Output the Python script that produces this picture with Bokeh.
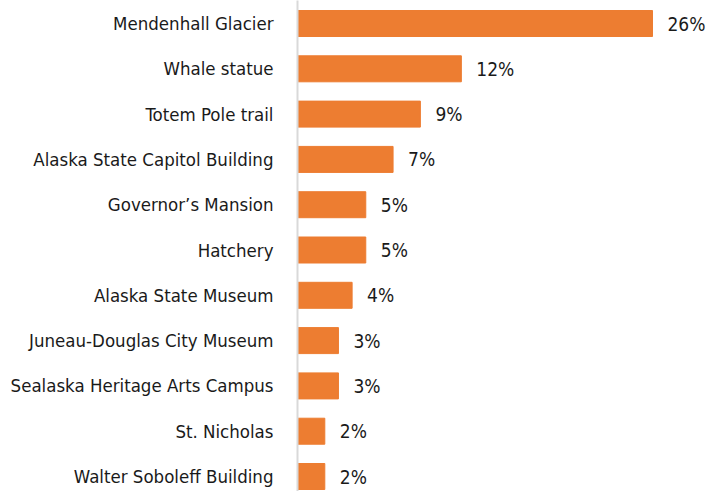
from bokeh.plotting import figure
from bokeh.models import Range1d, FixedTicker
from bokeh.core.properties import value
from bokeh.embed import file_html
from bokeh.resources import INLINE

categories = ["Mendenhall Glacier", "Whale statue", "Totem Pole trail",
              "Alaska State Capitol Building", "Governor\u2019s Mansion", "Hatchery",
              "Alaska State Museum", "Juneau-Douglas City Museum",
              "Sealaska Heritage Arts Campus", "St. Nicholas", "Walter Soboleff Building"]
values = [26, 12, 9, 7, 5, 5, 4, 3, 3, 2, 2]
labels = [f"{v}%" for v in values]

FONT = "DejaVu Sans Condensed, Roboto, sans-serif"
pos = list(range(len(categories)))

p = figure(width=723, height=491, output_backend="svg", toolbar_location=None,
           x_range=Range1d(0, 31.2), y_range=Range1d(10.331, -0.508),
           min_border_left=297, min_border_right=0, min_border_top=0, min_border_bottom=0)
p.outline_line_color = None
p.grid.visible = False
p.xaxis.visible = False

p.hbar(y=pos, right=values, left=0, height=0.574, color="#ED7D31")
p.text(x=values, y=pos, text=labels, x_offset=15, text_baseline="middle", text_align="left",
       text_font=value(FONT), text_font_size="19px", text_color="#1a1a1a")

ya = p.yaxis[0]
ya.ticker = FixedTicker(ticks=pos)
ya.major_label_overrides = {i: c for i, c in enumerate(categories)}
ya.major_tick_line_color = None
ya.minor_tick_line_color = None
ya.axis_line_color = "#d9d9d9"
ya.axis_line_width = 2
ya.major_label_standoff = 18
ya.major_label_text_font = FONT
ya.major_label_text_font_size = "18.5px"
ya.major_label_text_color = "#1a1a1a"

open("out.html", "w").write(file_html(p, INLINE))
